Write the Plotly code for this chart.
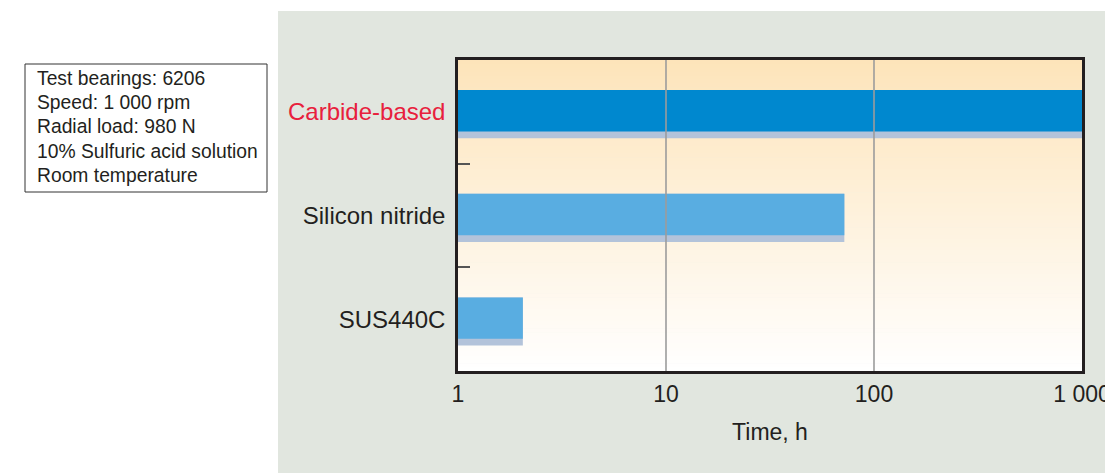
import plotly.graph_objects as go

# ---- data ----
categories = ["Carbide-based", "Silicon nitride", "SUS440C"]
hours = [1000, 72, 2.05]
bar_colors = ["#0088cf", "#59ade1", "#59ade1"]
label_colors = ["#e8203c", "#231f20", "#231f20"]
x_tickvals = [1, 10, 100, 1000]
x_ticktext = ["1", "10", "100", "1 000"]
conditions = ["Test bearings: 6206", "Speed: 1 000 rpm", "Radial load: 980 N",
              "10% Sulfuric acid solution", "Room temperature"]

W, H = 1105, 473
L, R, T, B = 458, 1082, 60, 371

def px(x):
    return (x - L) / (R - L)

def py(y):
    return (B - y) / (B - T)

ypos = list(range(len(categories)))
FONT = "Liberation Sans, Arial, Helvetica, sans-serif"
DARK = "#231f20"

fig = go.Figure()

# shadow bars
fig.add_trace(go.Bar(
    x=hours, y=ypos, orientation="h",
    width=0.465, offset=-0.21,
    marker=dict(color="#b3c3da", line=dict(width=0)),
    hoverinfo="skip", showlegend=False))

# vertical grid lines (between shadow and main bars)
gx, gy = [], []
for v in x_tickvals[1:-1]:
    gx += [v, v, None]
    gy += [-0.5, 2.5, None]
fig.add_trace(go.Scatter(
    x=gx, y=gy, mode="lines", line=dict(color="#9c9c9c", width=1.6),
    hoverinfo="skip", showlegend=False))

# main bars
fig.add_trace(go.Bar(
    x=hours, y=ypos, orientation="h",
    width=0.4, offset=-0.21,
    marker=dict(color=bar_colors, line=dict(width=0)),
    hoverinfo="skip", showlegend=False))

shapes = []
# grey panel
shapes.append(dict(type="rect", xref="paper", yref="paper",
                   x0=px(278), x1=px(1110), y0=py(480), y1=py(11),
                   fillcolor="#e1e6df", line=dict(width=0), layer="below"))
# gradient background inside plot area
N = 80
top = (253, 228, 186)
bot = (255, 255, 255)
for i in range(N):
    t = (i + 0.5) / N
    c = tuple(round(top[k] + (bot[k] - top[k]) * t) for k in range(3))
    shapes.append(dict(type="rect", xref="x domain", yref="y domain",
                       x0=0, x1=1, y0=1 - (i + 1) / N - 0.002, y1=1 - i / N,
                       fillcolor="rgb(%d,%d,%d)" % c, line=dict(width=0),
                       layer="below"))
# conditions box
shapes.append(dict(type="rect", xref="paper", yref="paper",
                   x0=px(25), x1=px(267), y0=py(192), y1=py(64),
                   fillcolor="white", line=dict(color="#333333", width=1)))

annotations = []
for i, line in enumerate(conditions):
    annotations.append(dict(xref="paper", yref="paper", x=px(35), y=py(79 + 24 * i),
                            xanchor="left", yanchor="middle", showarrow=False,
                            text=line, font=dict(family=FONT, size=19.3, color=DARK)))

ticktext = ["<span style='color:%s'>%s</span>" % (c, n) for n, c in zip(categories, label_colors)]

fig.update_layout(
    width=W, height=H, autosize=False,
    margin=dict(l=L, r=W - R, t=T, b=H - B, pad=0, autoexpand=False),
    paper_bgcolor="white", plot_bgcolor="rgba(0,0,0,0)",
    barmode="overlay", showlegend=False,
    font=dict(family=FONT, color=DARK),
    shapes=shapes, annotations=annotations,
    xaxis=dict(type="log", range=[0, 3], tickvals=x_tickvals, ticktext=x_ticktext,
               ticks="", showgrid=False, zeroline=False, automargin=False,
               showline=True, mirror=True, linecolor=DARK, linewidth=2.5,
               tickfont=dict(size=23, color=DARK), ticklabelstandoff=1,
               ticklabeloverflow="allow",
               title=dict(text="Time, h", font=dict(size=23, color=DARK), standoff=18)),
    yaxis=dict(range=[2.5, -0.5], tickvals=ypos, ticktext=ticktext,
               ticks="", showgrid=False, zeroline=False, automargin=False,
               showline=True, mirror=True, linecolor=DARK, linewidth=2.5,
               tickfont=dict(size=24, color=DARK), ticklabelstandoff=5,
               minor=dict(tickvals=[0.5, 1.5], ticks="inside", ticklen=12,
                          tickwidth=2, tickcolor="#555555", showgrid=False)),
)

fig.write_html("out.html", config={"displayModeBar": False},
               post_script="document.body.style.margin='0';document.body.style.overflow='hidden';")
